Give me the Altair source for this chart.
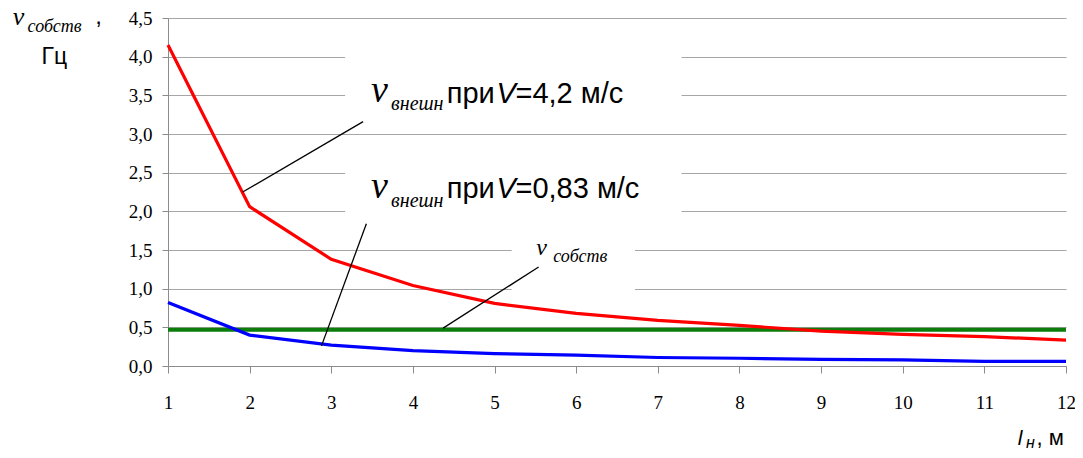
import altair as alt
import pandas as pd

# --- data ---
l_vals = [1, 2, 3, 4, 5, 6, 7, 8, 9, 10, 11, 12]
nu_v42 = [4.15, 2.06, 1.38, 1.04, 0.81, 0.68, 0.59, 0.525, 0.45, 0.41, 0.38, 0.335]
nu_v083 = [0.82, 0.40, 0.27, 0.20, 0.16, 0.14, 0.11, 0.10, 0.085, 0.08, 0.06, 0.06]
nu_own = [0.47] * 12
y_ticks = [0, 0.5, 1.0, 1.5, 2.0, 2.5, 3.0, 3.5, 4.0, 4.5]
x_ticks = l_vals

# annotation leader lines (data units)
lead_x = [1.915, 2.88, 4.37]
lead_y = [2.25, 0.26, 0.49]
lead_x2 = [3.39, 3.43, 5.54]
lead_y2 = [3.16, 1.84, 1.28]

# label background boxes (data units)
box_x = [3.17, 3.17, 5.21]
box_x2 = [7.29, 7.29, 6.72]
box_y = [3.3, 1.9, 0.9]
box_y2 = [4.1, 2.7, 1.65]

# text pieces
txt = ["ν", "внешн", "при", "V", "=4,2 м/с",
       "ν", "внешн", "при", "V", "=0,83 м/с",
       "ν", "собств",
       "ν", "собств", ",", "Гц",
       "l", "н", ", м"]
txt_x = [3.488, 3.732, 4.415, 5.024, 5.256,
         3.488, 3.732, 4.415, 5.024, 5.256,
         5.512, 5.720,
         -0.902, -0.720, 0.110, -0.549,
         11.41, 11.51, 11.64]
txt_y = [3.414, 3.310, 3.401, 3.401, 3.401,
         2.172, 2.056, 2.172, 2.172, 2.172,
         1.435, 1.345,
         4.41, 4.32, 4.425, 3.905,
         -1.022, -1.060, -1.022]
txt_size = [38, 20, 29, 29, 29,
            38, 20, 29, 29, 29,
            24, 18,
            26, 18, 24, 23,
            21, 16, 22]
txt_kind = ["si", "si", "sn", "sa", "sn",
            "si", "si", "sn", "sa", "sn",
            "si", "si",
            "si", "si", "sn", "sn",
            "sa", "sa", "sn"]

series = pd.DataFrame({
    "l": l_vals * 3,
    "v": nu_v42 + nu_v083 + nu_own,
    "s": ["red"] * 12 + ["blue"] * 12 + ["green"] * 12,
})
leads = pd.DataFrame({"l": lead_x, "v": lead_y, "l2": lead_x2, "v2": lead_y2})
boxes = pd.DataFrame({"l": box_x, "v": box_y, "l2": box_x2, "v2": box_y2})
texts = pd.DataFrame({"t": txt, "l": txt_x, "v": txt_y, "size": txt_size, "k": txt_kind})

xs = alt.Scale(domain=[1, 12], nice=False, zero=False)
ys = alt.Scale(domain=[0, 4.5], nice=False)

x_axis = alt.Axis(
    values=x_ticks, format="d", grid=False, title=None,
    domainColor="#8c8c8c", tickColor="#8c8c8c", tickSize=7,
    labelFont="Liberation Serif", labelFontSize=19, labelColor="black",
    labelPadding=20, labelFlush=False, labelOverlap=False)
y_axis = alt.Axis(
    values=y_ticks, title=None, grid=True, gridColor="#a6a6a6",
    domainColor="#8c8c8c", tickColor="#8c8c8c", tickSize=6,
    labelFont="Liberation Serif", labelFontSize=19, labelColor="black",
    labelPadding=10, labelOverlap=False, labelFlush=False,
    labelExpr="replace(format(datum.value, '.1f'), '.', ',')")

x_enc = alt.X("l:Q", scale=xs, axis=x_axis)
y_enc = alt.Y("v:Q", scale=ys, axis=y_axis)

def line(name, color, w):
    return alt.Chart(series).transform_filter(alt.datum.s == name).mark_line(
        color=color, strokeWidth=w).encode(x=x_enc, y=y_enc)

green = line("green", "#0a7d0a", 4)
red = line("red", "#ff0000", 3.2)
blue = line("blue", "#0000ff", 3.2)

rects = alt.Chart(boxes).mark_rect(fill="white").encode(
    x=x_enc, x2="l2:Q", y=y_enc, y2="v2:Q")

rules = alt.Chart(leads).mark_rule(color="black", strokeWidth=1.3).encode(
    x=x_enc, x2="l2:Q", y=y_enc, y2="v2:Q")

def text_layer(kind, font, style):
    kw = dict(font=font, align="left", baseline="alphabetic", color="black")
    if style:
        kw["fontStyle"] = style
    return alt.Chart(texts).transform_filter(alt.datum.k == kind).mark_text(**kw).encode(
        x=x_enc, y=y_enc,
        text="t:N", size=alt.Size("size:Q", scale=None, legend=None))

t_si = text_layer("si", "Liberation Serif", "italic")
t_sn = text_layer("sn", "Liberation Sans", None)
t_sa = text_layer("sa", "Liberation Sans", "italic")

chart = alt.layer(green, red, blue, rects, rules, t_si, t_sn, t_sa).properties(
    width=898, height=348,
    autosize=alt.AutoSizeParams(type="none"),
    padding={"left": 160, "top": 10, "right": 9, "bottom": 88},
).configure_view(strokeWidth=0)

chart.save("out.html", embed_options={"renderer": "svg", "actions": False})
